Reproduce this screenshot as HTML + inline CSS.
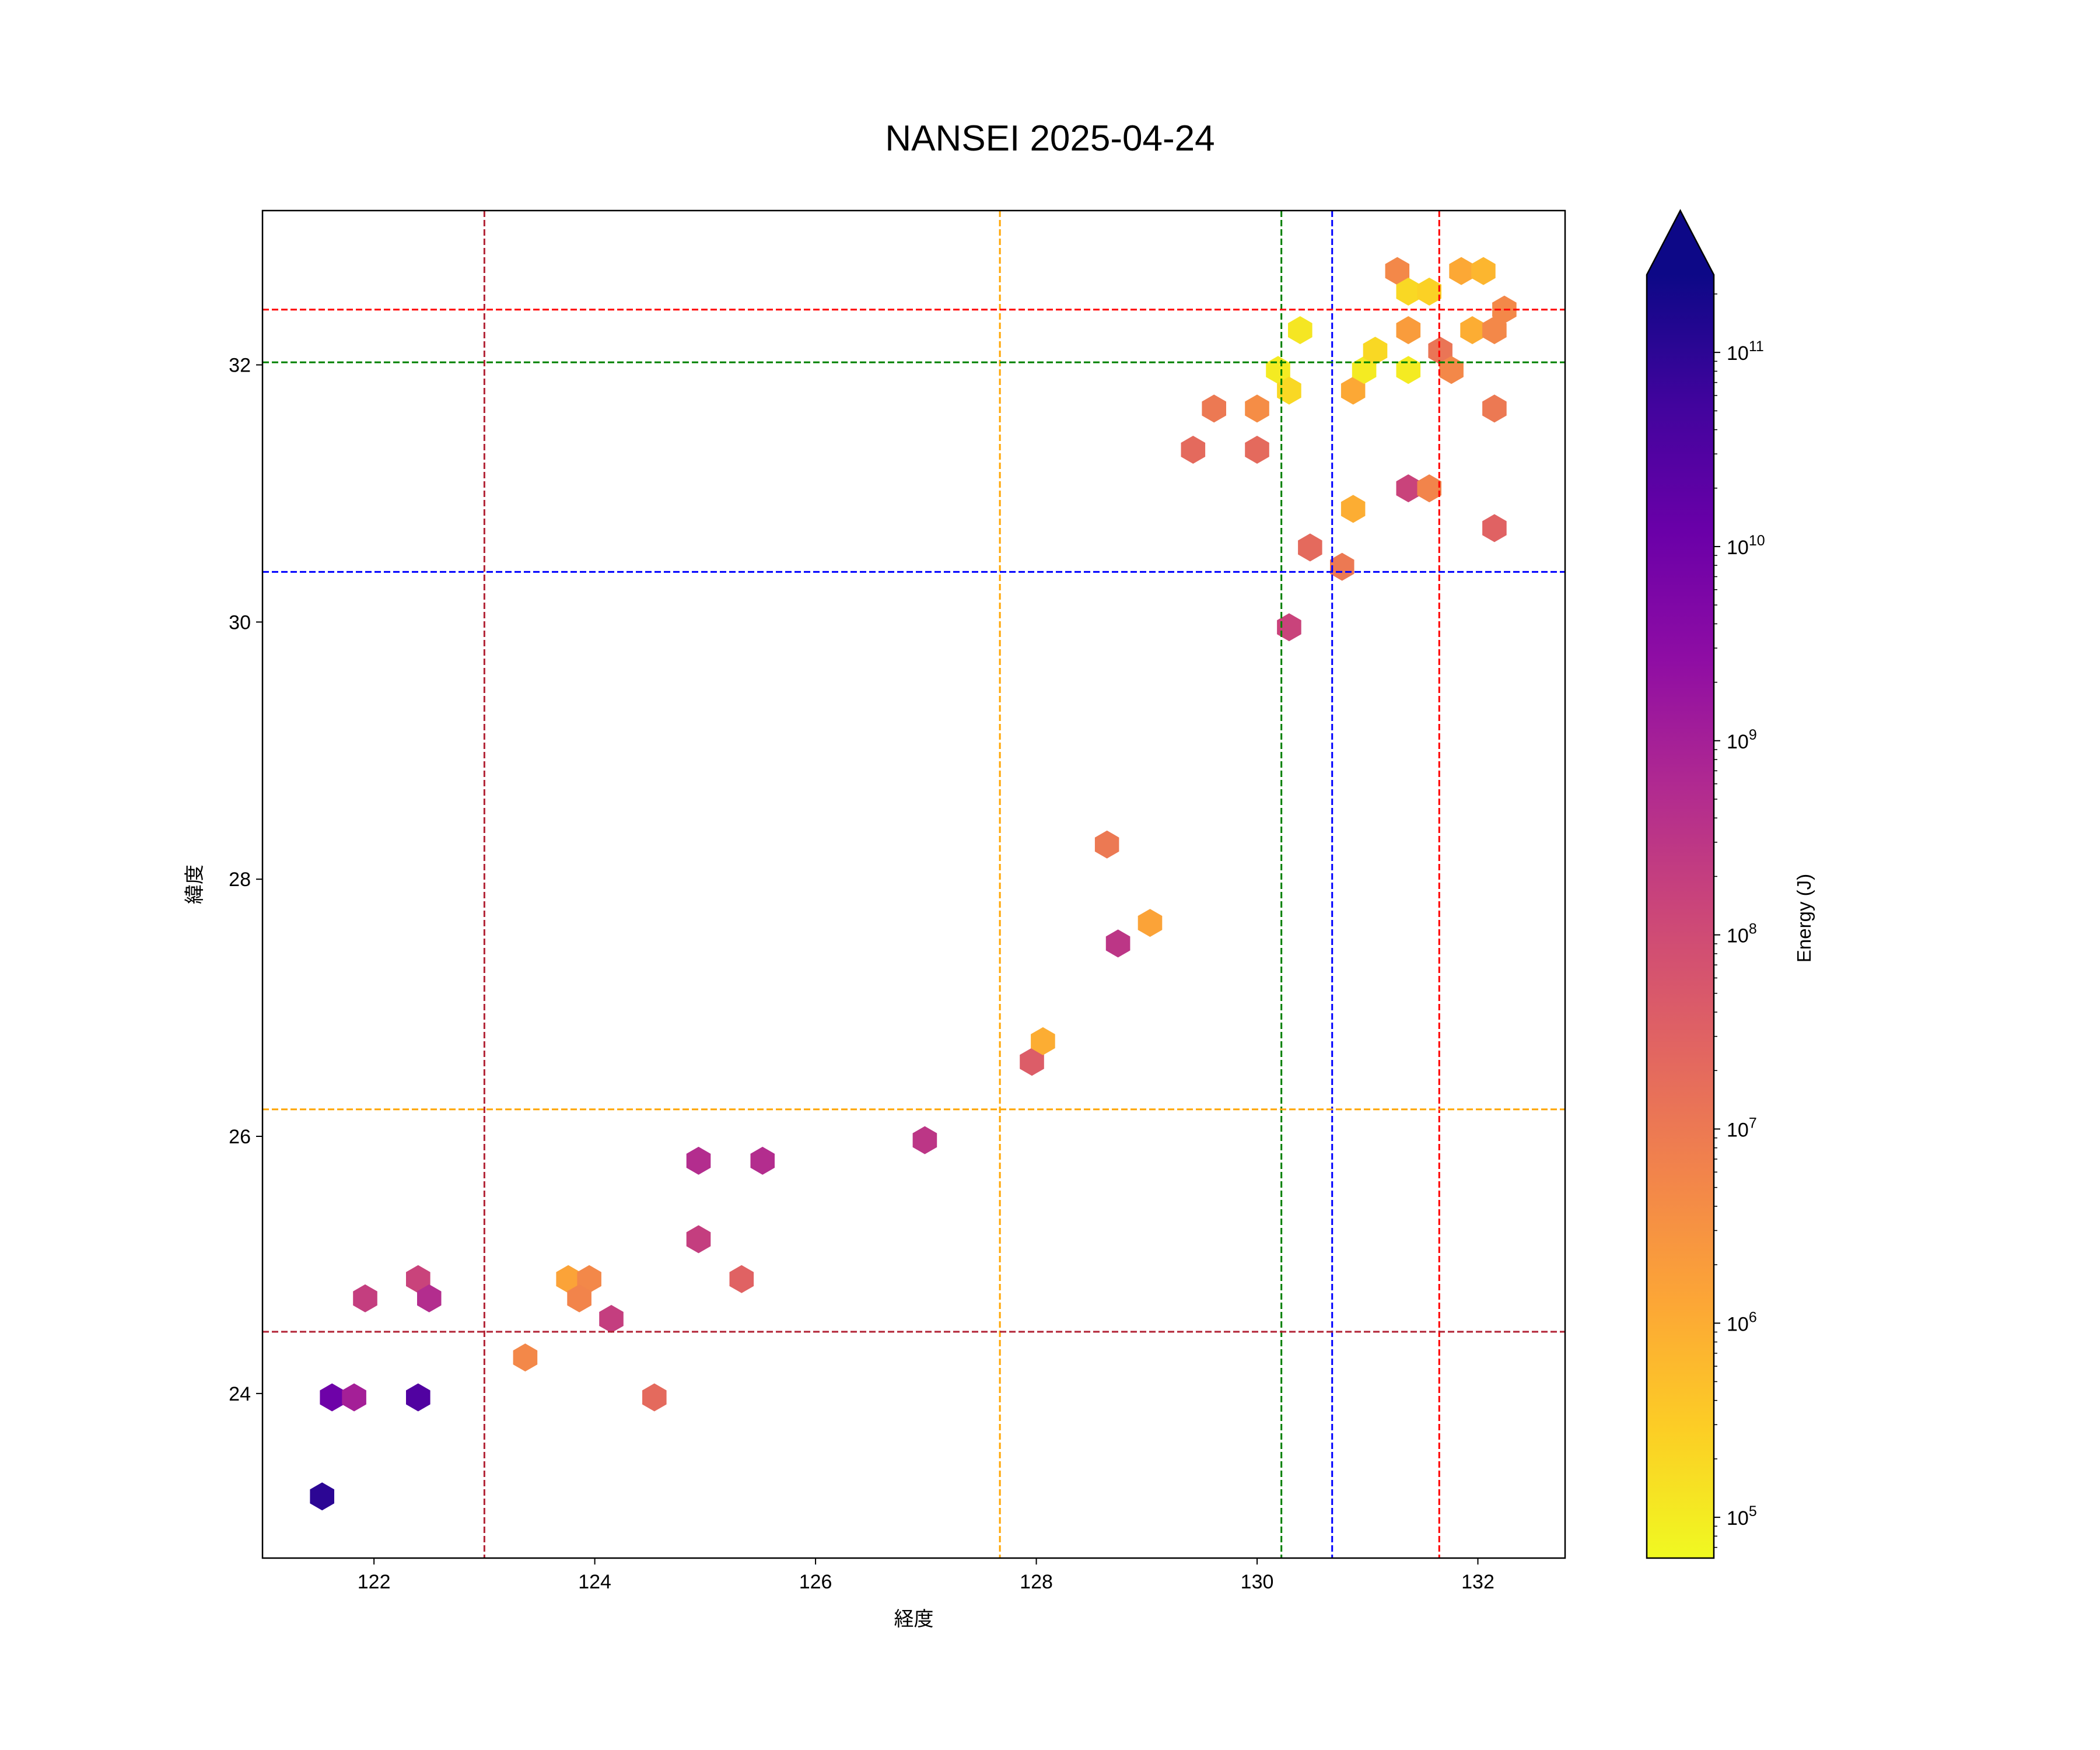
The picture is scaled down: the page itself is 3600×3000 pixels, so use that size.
<!DOCTYPE html>
<html><head><meta charset="utf-8"><style>
html,body{margin:0;padding:0;background:#fff;}
svg{display:block;font-family:"Liberation Sans","Noto Sans CJK JP",sans-serif;}
</style></head><body>
<svg id="chart" width="3600" height="3000" viewBox="0 0 3600 3000" xmlns="http://www.w3.org/2000/svg">
<rect width="3600" height="3000" fill="#fff"/>
<text x="1800" y="258" font-size="62" text-anchor="middle">NANSEI 2025-04-24</text>
<g id="marks"></g>
<g id="axes"></g>
<g id="cbar"></g>
</svg>
<script>
const lons=[121.53,121.62,121.82,122.40,121.92,122.40,122.50,123.37,123.76,123.95,123.86,124.15,124.54,124.94,124.94,125.33,125.52,126.99,127.96,128.06,128.64,128.74,129.03,129.42,129.61,130.00,130.00,130.19,130.29,130.39,130.29,130.48,130.77,130.87,130.87,130.97,131.07,131.27,131.37,131.56,131.37,131.37,131.37,131.56,131.66,131.76,131.85,132.05,131.95,132.15,132.24,132.15,132.15];
const lats=[23.20,23.97,23.97,23.97,24.74,24.89,24.74,24.28,24.89,24.89,24.74,24.58,23.97,25.81,25.20,24.89,25.81,25.97,26.58,26.74,28.27,27.50,27.66,31.34,31.66,31.66,31.34,31.96,31.80,32.27,29.96,30.58,30.43,30.88,31.80,31.96,32.11,32.73,32.57,32.57,32.27,31.96,31.04,31.04,32.11,31.96,32.73,32.73,32.27,32.27,32.43,31.66,30.73];
const energies=[1e11,1e10,1e9,3e10,2e8,1.5e8,5e8,5e6,1.5e6,5e6,6e6,2e8,2e7,5e8,2e8,3e7,5e8,3e8,4e7,1e6,1e7,3e8,1.5e6,2e7,1e7,4e6,2e7,1e5,2e5,1.2e5,1.5e8,2e7,1e7,1e6,1.2e6,1e5,2e5,5e6,2e5,2.5e5,2e6,1e5,1.5e8,6e6,1.2e7,5e6,1.2e6,7e5,1e6,5e6,5e6,1e7,3e7];
const vlineX=[123.0,127.67,130.22,130.68,131.65];
const vlineColors=["#b22234","orange","green","blue","red"];
const hlineY=[32.43,32.02,30.39,26.21,24.48];
const hlineColors=["red","green","blue","orange","#b22234"];
const xTicks=[122,124,126,128,130,132];
const yTicks=[24,26,28,30,32];
const cTicks=[5,6,7,8,9,10,11];

const NS="http://www.w3.org/2000/svg";
const L=450,R=2683,T=361,B=2671,XMIN=120.99,XMAX=132.79,YMIN=22.72,YMAX=33.2;
const sx=v=>L+(v-XMIN)/(XMAX-XMIN)*(R-L);
const sy=v=>B-(v-YMIN)/(YMAX-YMIN)*(B-T);
const CL=2823,CR=2938,CT=471,CB=2671,TIP=361,LMIN=4.79,LMAX=11.4;
const cy=l=>CB-(l-LMIN)/(LMAX-LMIN)*(CB-CT);
const stops=[[0,"#0d0887"],[0.1,"#41049d"],[0.2,"#6a00a8"],[0.3,"#8f0da4"],[0.4,"#b12a90"],[0.5,"#cc4778"],[0.6,"#e16462"],[0.7,"#f2844b"],[0.8,"#fca636"],[0.9,"#fcce25"],[1,"#f0f921"]];
function hex(h){return [1,3,5].map(i=>parseInt(h.substr(i,2),16));}
function plasma(t){t=Math.max(0,Math.min(1,t));for(let i=1;i<stops.length;i++){if(t<=stops[i][0]){const a=hex(stops[i-1][1]),b=hex(stops[i][1]);const f=(t-stops[i-1][0])/(stops[i][0]-stops[i-1][0]);return "rgb("+a.map((v,k)=>Math.round(v+(b[k]-v)*f)).join(",")+")";}}return stops[10][1];}
const colorOf=e=>plasma(1-(Math.log10(e)-LMIN)/(LMAX-LMIN));
function mk(tag,attrs,parent){const el=document.createElementNS(NS,tag);for(const k in attrs)el.setAttribute(k,attrs[k]);parent.appendChild(el);return el;}

const marks=document.getElementById("marks");
const r=24;
lons.forEach((lo,i)=>{const x=sx(lo),y=sy(lats[i]);let pts=[];for(let k=0;k<6;k++){const a=Math.PI/180*(60*k-90);pts.push((x+r*Math.cos(a)).toFixed(1)+","+(y+r*Math.sin(a)).toFixed(1));}
const p=mk("polygon",{points:pts.join(" "),fill:colorOf(energies[i])},marks);

});
vlineX.forEach((v,i)=>{const l=mk("line",{x1:sx(v),x2:sx(v),y1:T,y2:B,stroke:vlineColors[i],"stroke-width":3,"stroke-dasharray":"11,5"},marks);

});
hlineY.forEach((v,i)=>{const l=mk("line",{x1:L,x2:R,y1:sy(v),y2:sy(v),stroke:hlineColors[i],"stroke-width":3,"stroke-dasharray":"11,5"},marks);

});

const axes=document.getElementById("axes");
const frame=mk("rect",{x:L,y:T,width:R-L,height:B-T,fill:"none",stroke:"#000","stroke-width":2.5},axes);


xTicks.forEach(v=>{const x=sx(v);mk("line",{x1:x,x2:x,y1:B,y2:B+11,stroke:"#000","stroke-width":2},axes);
const t=mk("text",{x:x,y:B+52,"font-size":34,"text-anchor":"middle"},axes);t.textContent=v;

});
yTicks.forEach(v=>{const y=sy(v);mk("line",{x1:L-11,x2:L,y1:y,y2:y,stroke:"#000","stroke-width":2},axes);
const t=mk("text",{x:L-20,y:y+12,"font-size":34,"text-anchor":"end"},axes);t.textContent=v;

});
const xl=mk("text",{x:(L+R)/2,y:2787,"font-size":34,"text-anchor":"middle"},axes);xl.textContent="経度";


const yl=mk("text",{x:0,y:0,"font-size":34,"text-anchor":"middle",transform:"translate(345,1516) rotate(-90)"},axes);yl.textContent="緯度";



const cb=document.getElementById("cbar");
const defs=mk("defs",{},cb);
const g=mk("linearGradient",{id:"pg",x1:0,y1:0,x2:0,y2:1},defs);
stops.forEach(s=>mk("stop",{offset:s[0],"stop-color":s[1]},g));
const bar=mk("rect",{x:CL,y:CT,width:CR-CL,height:CB-CT,fill:"url(#pg)"},cb);


const tri=mk("polygon",{points:`${CL},${CT} ${(CL+CR)/2},${TIP} ${CR},${CT}`,fill:"#0d0887"},cb);


mk("polygon",{points:`${CL},${CB} ${CL},${CT} ${(CL+CR)/2},${TIP} ${CR},${CT} ${CR},${CB}`,fill:"none",stroke:"#000","stroke-width":2.5},cb);
for(let d=4;d<=11;d++){for(let m=2;m<=9;m++){const l=d+Math.log10(m);if(l<LMIN||l>LMAX)continue;const y=cy(l);mk("line",{x1:CR,x2:CR+6,y1:y,y2:y,stroke:"#000","stroke-width":1.5},cb);}}
cTicks.forEach(v=>{const y=cy(v);mk("line",{x1:CR,x2:CR+11,y1:y,y2:y,stroke:"#000","stroke-width":2},cb);
const t=mk("text",{x:CR+22,y:y+13,"font-size":34},cb);t.innerHTML="10<tspan dy='-15' font-size='25'>"+v+"</tspan>";

});
const cl=mk("text",{x:0,y:0,"font-size":33,"text-anchor":"middle",transform:"translate(3104,1574) rotate(-90)"},cb);cl.textContent="Energy (J)";


</script>
</body></html>
